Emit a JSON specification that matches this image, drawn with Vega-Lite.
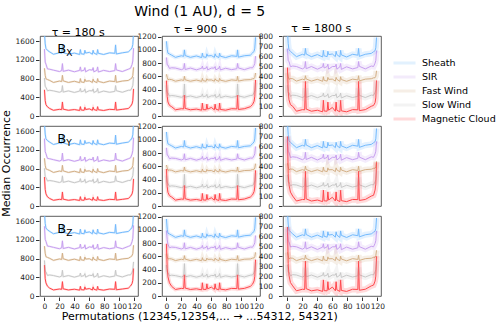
{
"$schema":"https://vega.github.io/schema/vega-lite/v6.json",
"padding":{"left":0,"right":2,"top":5,"bottom":2},
"background":"white",
"datasets":{"d":[
{"t":180,"c":"X","p":0,"a":1780,"b":1430,"f":1020,"w":810,"m":560},
{"t":180,"c":"X","p":1,"a":1542,"b":1151,"f":870,"w":630,"m":328},
{"t":180,"c":"X","p":2,"a":1443,"b":1109,"f":795,"w":615,"m":242},
{"t":180,"c":"X","p":4,"a":1404,"b":1007,"f":780,"w":540,"m":196},
{"t":180,"c":"X","p":7,"a":1370,"b":1000,"f":760,"w":550,"m":160},
{"t":180,"c":"X","p":12,"a":1320,"b":980,"f":717,"w":537,"m":122},
{"t":180,"c":"X","p":20,"a":1350,"b":950,"f":747,"w":507,"m":142},
{"t":180,"c":"X","p":23,"a":1340,"b":970,"f":736,"w":526,"m":136},
{"t":180,"c":"X","p":24,"a":1520,"b":1120,"f":870,"w":650,"m":300},
{"t":180,"c":"X","p":25,"a":1355,"b":955,"f":751,"w":511,"m":146},
{"t":180,"c":"X","p":32,"a":1320,"b":980,"f":717,"w":537,"m":122},
{"t":180,"c":"X","p":40,"a":1345,"b":945,"f":743,"w":503,"m":138},
{"t":180,"c":"X","p":47,"a":1315,"b":975,"f":713,"w":533,"m":118},
{"t":180,"c":"X","p":48,"a":1420,"b":1050,"f":800,"w":590,"m":200},
{"t":180,"c":"X","p":49,"a":1330,"b":960,"f":728,"w":518,"m":128},
{"t":180,"c":"X","p":53,"a":1320,"b":980,"f":717,"w":537,"m":122},
{"t":180,"c":"X","p":54,"a":1405,"b":1035,"f":788,"w":578,"m":188},
{"t":180,"c":"X","p":55,"a":1345,"b":945,"f":743,"w":503,"m":138},
{"t":180,"c":"X","p":60,"a":1360,"b":990,"f":752,"w":542,"m":152},
{"t":180,"c":"X","p":64,"a":1320,"b":980,"f":717,"w":537,"m":122},
{"t":180,"c":"X","p":65,"a":1405,"b":1035,"f":788,"w":578,"m":188},
{"t":180,"c":"X","p":66,"a":1345,"b":945,"f":743,"w":503,"m":138},
{"t":180,"c":"X","p":70,"a":1315,"b":975,"f":713,"w":533,"m":118},
{"t":180,"c":"X","p":71,"a":1420,"b":1050,"f":800,"w":590,"m":200},
{"t":180,"c":"X","p":72,"a":1340,"b":940,"f":739,"w":499,"m":134},
{"t":180,"c":"X","p":79,"a":1315,"b":975,"f":713,"w":533,"m":118},
{"t":180,"c":"X","p":87,"a":1350,"b":950,"f":747,"w":507,"m":142},
{"t":180,"c":"X","p":94,"a":1340,"b":970,"f":736,"w":526,"m":136},
{"t":180,"c":"X","p":95,"a":1520,"b":1120,"f":870,"w":650,"m":300},
{"t":180,"c":"X","p":96,"a":1325,"b":985,"f":721,"w":541,"m":126},
{"t":180,"c":"X","p":104,"a":1350,"b":950,"f":747,"w":507,"m":142},
{"t":180,"c":"X","p":112,"a":1370,"b":1000,"f":760,"w":550,"m":160},
{"t":180,"c":"X","p":115,"a":1414,"b":1020,"f":791,"w":551,"m":207},
{"t":180,"c":"X","p":117,"a":1458,"b":1100,"f":816,"w":606,"m":258},
{"t":180,"c":"X","p":118,"a":1527,"b":1175,"f":864,"w":654,"m":327},
{"t":180,"c":"X","p":119,"a":1780,"b":1450,"f":1040,"w":830,"m":580},
{"t":180,"c":"Y","p":0,"a":1775,"b":1440,"f":1020,"w":805,"m":620},
{"t":180,"c":"Y","p":1,"a":1537,"b":1161,"f":870,"w":625,"m":355},
{"t":180,"c":"Y","p":2,"a":1438,"b":1119,"f":795,"w":610,"m":260},
{"t":180,"c":"Y","p":4,"a":1399,"b":1017,"f":780,"w":535,"m":196},
{"t":180,"c":"Y","p":7,"a":1365,"b":1010,"f":760,"w":545,"m":160},
{"t":180,"c":"Y","p":12,"a":1315,"b":990,"f":717,"w":532,"m":122},
{"t":180,"c":"Y","p":20,"a":1345,"b":960,"f":747,"w":502,"m":142},
{"t":180,"c":"Y","p":23,"a":1335,"b":980,"f":736,"w":521,"m":136},
{"t":180,"c":"Y","p":24,"a":1515,"b":1130,"f":870,"w":645,"m":300},
{"t":180,"c":"Y","p":25,"a":1350,"b":965,"f":751,"w":506,"m":146},
{"t":180,"c":"Y","p":32,"a":1315,"b":990,"f":717,"w":532,"m":122},
{"t":180,"c":"Y","p":40,"a":1340,"b":955,"f":743,"w":498,"m":138},
{"t":180,"c":"Y","p":47,"a":1310,"b":985,"f":713,"w":528,"m":118},
{"t":180,"c":"Y","p":48,"a":1415,"b":1060,"f":800,"w":585,"m":200},
{"t":180,"c":"Y","p":49,"a":1325,"b":970,"f":728,"w":513,"m":128},
{"t":180,"c":"Y","p":53,"a":1315,"b":990,"f":717,"w":532,"m":122},
{"t":180,"c":"Y","p":54,"a":1400,"b":1045,"f":788,"w":573,"m":188},
{"t":180,"c":"Y","p":55,"a":1340,"b":955,"f":743,"w":498,"m":138},
{"t":180,"c":"Y","p":60,"a":1355,"b":1000,"f":752,"w":537,"m":152},
{"t":180,"c":"Y","p":64,"a":1315,"b":990,"f":717,"w":532,"m":122},
{"t":180,"c":"Y","p":65,"a":1400,"b":1045,"f":788,"w":573,"m":188},
{"t":180,"c":"Y","p":66,"a":1340,"b":955,"f":743,"w":498,"m":138},
{"t":180,"c":"Y","p":70,"a":1310,"b":985,"f":713,"w":528,"m":118},
{"t":180,"c":"Y","p":71,"a":1415,"b":1060,"f":800,"w":585,"m":200},
{"t":180,"c":"Y","p":72,"a":1335,"b":950,"f":739,"w":494,"m":134},
{"t":180,"c":"Y","p":79,"a":1310,"b":985,"f":713,"w":528,"m":118},
{"t":180,"c":"Y","p":87,"a":1345,"b":960,"f":747,"w":502,"m":142},
{"t":180,"c":"Y","p":94,"a":1335,"b":980,"f":736,"w":521,"m":136},
{"t":180,"c":"Y","p":95,"a":1515,"b":1130,"f":870,"w":645,"m":300},
{"t":180,"c":"Y","p":96,"a":1320,"b":995,"f":721,"w":536,"m":126},
{"t":180,"c":"Y","p":104,"a":1345,"b":960,"f":747,"w":502,"m":142},
{"t":180,"c":"Y","p":112,"a":1365,"b":1010,"f":760,"w":545,"m":160},
{"t":180,"c":"Y","p":115,"a":1409,"b":1030,"f":791,"w":546,"m":207},
{"t":180,"c":"Y","p":117,"a":1453,"b":1110,"f":816,"w":601,"m":258},
{"t":180,"c":"Y","p":118,"a":1522,"b":1185,"f":864,"w":649,"m":327},
{"t":180,"c":"Y","p":119,"a":1775,"b":1460,"f":1040,"w":825,"m":580},
{"t":180,"c":"Z","p":0,"a":1790,"b":1490,"f":1065,"w":760,"m":660},
{"t":180,"c":"Z","p":1,"a":1552,"b":1211,"f":915,"w":530,"m":370},
{"t":180,"c":"Z","p":2,"a":1453,"b":1169,"f":840,"w":515,"m":280},
{"t":180,"c":"Z","p":4,"a":1414,"b":1067,"f":825,"w":440,"m":210},
{"t":180,"c":"Z","p":7,"a":1380,"b":1060,"f":805,"w":450,"m":167},
{"t":180,"c":"Z","p":12,"a":1330,"b":1040,"f":762,"w":437,"m":129},
{"t":180,"c":"Z","p":20,"a":1360,"b":1010,"f":792,"w":407,"m":149},
{"t":180,"c":"Z","p":23,"a":1350,"b":1030,"f":781,"w":426,"m":143},
{"t":180,"c":"Z","p":24,"a":1530,"b":1180,"f":915,"w":550,"m":307},
{"t":180,"c":"Z","p":25,"a":1365,"b":1015,"f":796,"w":411,"m":153},
{"t":180,"c":"Z","p":32,"a":1330,"b":1040,"f":762,"w":437,"m":129},
{"t":180,"c":"Z","p":40,"a":1355,"b":1005,"f":788,"w":403,"m":145},
{"t":180,"c":"Z","p":47,"a":1325,"b":1035,"f":758,"w":433,"m":125},
{"t":180,"c":"Z","p":48,"a":1430,"b":1110,"f":845,"w":490,"m":207},
{"t":180,"c":"Z","p":49,"a":1340,"b":1020,"f":773,"w":418,"m":135},
{"t":180,"c":"Z","p":53,"a":1330,"b":1040,"f":762,"w":437,"m":129},
{"t":180,"c":"Z","p":54,"a":1415,"b":1095,"f":833,"w":478,"m":195},
{"t":180,"c":"Z","p":55,"a":1355,"b":1005,"f":788,"w":403,"m":145},
{"t":180,"c":"Z","p":60,"a":1370,"b":1050,"f":797,"w":442,"m":159},
{"t":180,"c":"Z","p":64,"a":1330,"b":1040,"f":762,"w":437,"m":129},
{"t":180,"c":"Z","p":65,"a":1415,"b":1095,"f":833,"w":478,"m":195},
{"t":180,"c":"Z","p":66,"a":1355,"b":1005,"f":788,"w":403,"m":145},
{"t":180,"c":"Z","p":70,"a":1325,"b":1035,"f":758,"w":433,"m":125},
{"t":180,"c":"Z","p":71,"a":1430,"b":1110,"f":845,"w":490,"m":207},
{"t":180,"c":"Z","p":72,"a":1350,"b":1000,"f":784,"w":399,"m":141},
{"t":180,"c":"Z","p":79,"a":1325,"b":1035,"f":758,"w":433,"m":125},
{"t":180,"c":"Z","p":87,"a":1360,"b":1010,"f":792,"w":407,"m":149},
{"t":180,"c":"Z","p":94,"a":1350,"b":1030,"f":781,"w":426,"m":143},
{"t":180,"c":"Z","p":95,"a":1530,"b":1180,"f":915,"w":550,"m":307},
{"t":180,"c":"Z","p":96,"a":1335,"b":1045,"f":766,"w":441,"m":133},
{"t":180,"c":"Z","p":104,"a":1360,"b":1010,"f":792,"w":407,"m":149},
{"t":180,"c":"Z","p":112,"a":1380,"b":1060,"f":805,"w":450,"m":167},
{"t":180,"c":"Z","p":115,"a":1424,"b":1080,"f":836,"w":451,"m":214},
{"t":180,"c":"Z","p":117,"a":1468,"b":1160,"f":861,"w":506,"m":265},
{"t":180,"c":"Z","p":118,"a":1537,"b":1235,"f":909,"w":554,"m":334},
{"t":180,"c":"Z","p":119,"a":1790,"b":1510,"f":1085,"w":730,"m":587},
{"t":900,"c":"X","p":0,"a":1130,"b":885,"f":630,"w":465,"m":535},
{"t":900,"c":"X","p":1,"a":1010,"b":774,"f":585,"w":356,"m":296},
{"t":900,"c":"X","p":2,"a":950,"b":771,"f":550,"w":349,"m":212},
{"t":900,"c":"X","p":4,"a":938,"b":720,"f":555,"w":302,"m":161},
{"t":900,"c":"X","p":7,"a":920,"b":730,"f":550,"w":310,"m":140},
{"t":900,"c":"X","p":12,"a":887,"b":725,"f":526,"w":303,"m":94},
{"t":900,"c":"X","p":20,"a":911,"b":701,"f":546,"w":283,"m":110},
{"t":900,"c":"X","p":23,"a":902,"b":715,"f":538,"w":295,"m":107},
{"t":900,"c":"X","p":24,"a":1000,"b":795,"f":600,"w":485,"m":315},
{"t":900,"c":"X","p":25,"a":914,"b":703,"f":548,"w":285,"m":115},
{"t":900,"c":"X","p":32,"a":887,"b":725,"f":526,"w":303,"m":94},
{"t":900,"c":"X","p":40,"a":908,"b":698,"f":544,"w":280,"m":104},
{"t":900,"c":"X","p":47,"a":884,"b":722,"f":524,"w":300,"m":88},
{"t":900,"c":"X","p":48,"a":950,"b":755,"f":570,"w":335,"m":195},
{"t":900,"c":"X","p":49,"a":896,"b":710,"f":534,"w":290,"m":96},
{"t":900,"c":"X","p":53,"a":887,"b":725,"f":526,"w":303,"m":94},
{"t":900,"c":"X","p":54,"a":941,"b":748,"f":564,"w":328,"m":179},
{"t":900,"c":"X","p":55,"a":908,"b":698,"f":544,"w":280,"m":104},
{"t":900,"c":"X","p":60,"a":914,"b":725,"f":546,"w":305,"m":129},
{"t":900,"c":"X","p":64,"a":887,"b":725,"f":526,"w":303,"m":94},
{"t":900,"c":"X","p":65,"a":941,"b":748,"f":564,"w":328,"m":179},
{"t":900,"c":"X","p":66,"a":908,"b":698,"f":544,"w":280,"m":104},
{"t":900,"c":"X","p":70,"a":884,"b":722,"f":524,"w":300,"m":88},
{"t":900,"c":"X","p":71,"a":950,"b":755,"f":570,"w":335,"m":195},
{"t":900,"c":"X","p":72,"a":905,"b":696,"f":542,"w":278,"m":99},
{"t":900,"c":"X","p":79,"a":884,"b":722,"f":524,"w":300,"m":88},
{"t":900,"c":"X","p":87,"a":911,"b":701,"f":546,"w":283,"m":110},
{"t":900,"c":"X","p":94,"a":902,"b":715,"f":538,"w":295,"m":107},
{"t":900,"c":"X","p":95,"a":1000,"b":795,"f":600,"w":485,"m":315},
{"t":900,"c":"X","p":96,"a":890,"b":727,"f":528,"w":305,"m":99},
{"t":900,"c":"X","p":104,"a":911,"b":701,"f":546,"w":283,"m":110},
{"t":900,"c":"X","p":112,"a":920,"b":730,"f":550,"w":310,"m":140},
{"t":900,"c":"X","p":115,"a":953,"b":728,"f":562,"w":313,"m":173},
{"t":900,"c":"X","p":117,"a":980,"b":765,"f":566,"w":351,"m":223},
{"t":900,"c":"X","p":118,"a":1025,"b":795,"f":584,"w":384,"m":292},
{"t":900,"c":"X","p":119,"a":1190,"b":905,"f":650,"w":505,"m":545},
{"t":900,"c":"Y","p":0,"a":1120,"b":880,"f":620,"w":460,"m":560},
{"t":900,"c":"Y","p":1,"a":1000,"b":769,"f":575,"w":351,"m":291},
{"t":900,"c":"Y","p":2,"a":940,"b":766,"f":540,"w":344,"m":207},
{"t":900,"c":"Y","p":4,"a":928,"b":715,"f":545,"w":297,"m":156},
{"t":900,"c":"Y","p":7,"a":910,"b":725,"f":540,"w":305,"m":135},
{"t":900,"c":"Y","p":12,"a":877,"b":720,"f":516,"w":298,"m":89},
{"t":900,"c":"Y","p":20,"a":901,"b":696,"f":536,"w":278,"m":105},
{"t":900,"c":"Y","p":23,"a":892,"b":710,"f":528,"w":290,"m":102},
{"t":900,"c":"Y","p":24,"a":990,"b":790,"f":590,"w":480,"m":310},
{"t":900,"c":"Y","p":25,"a":904,"b":698,"f":538,"w":280,"m":110},
{"t":900,"c":"Y","p":32,"a":877,"b":720,"f":516,"w":298,"m":89},
{"t":900,"c":"Y","p":40,"a":898,"b":693,"f":534,"w":275,"m":99},
{"t":900,"c":"Y","p":47,"a":874,"b":717,"f":514,"w":295,"m":83},
{"t":900,"c":"Y","p":48,"a":940,"b":750,"f":560,"w":330,"m":190},
{"t":900,"c":"Y","p":49,"a":886,"b":705,"f":524,"w":285,"m":91},
{"t":900,"c":"Y","p":53,"a":877,"b":720,"f":516,"w":298,"m":89},
{"t":900,"c":"Y","p":54,"a":931,"b":743,"f":554,"w":323,"m":174},
{"t":900,"c":"Y","p":55,"a":898,"b":693,"f":534,"w":275,"m":99},
{"t":900,"c":"Y","p":60,"a":904,"b":720,"f":536,"w":300,"m":124},
{"t":900,"c":"Y","p":64,"a":877,"b":720,"f":516,"w":298,"m":89},
{"t":900,"c":"Y","p":65,"a":931,"b":743,"f":554,"w":323,"m":174},
{"t":900,"c":"Y","p":66,"a":898,"b":693,"f":534,"w":275,"m":99},
{"t":900,"c":"Y","p":70,"a":874,"b":717,"f":514,"w":295,"m":83},
{"t":900,"c":"Y","p":71,"a":940,"b":750,"f":560,"w":330,"m":190},
{"t":900,"c":"Y","p":72,"a":895,"b":691,"f":532,"w":273,"m":94},
{"t":900,"c":"Y","p":79,"a":874,"b":717,"f":514,"w":295,"m":83},
{"t":900,"c":"Y","p":87,"a":901,"b":696,"f":536,"w":278,"m":105},
{"t":900,"c":"Y","p":94,"a":892,"b":710,"f":528,"w":290,"m":102},
{"t":900,"c":"Y","p":95,"a":990,"b":790,"f":590,"w":480,"m":310},
{"t":900,"c":"Y","p":96,"a":880,"b":722,"f":518,"w":300,"m":94},
{"t":900,"c":"Y","p":104,"a":901,"b":696,"f":536,"w":278,"m":105},
{"t":900,"c":"Y","p":112,"a":910,"b":725,"f":540,"w":305,"m":135},
{"t":900,"c":"Y","p":115,"a":943,"b":723,"f":552,"w":308,"m":168},
{"t":900,"c":"Y","p":117,"a":970,"b":760,"f":556,"w":346,"m":218},
{"t":900,"c":"Y","p":118,"a":1015,"b":790,"f":574,"w":379,"m":287},
{"t":900,"c":"Y","p":119,"a":1180,"b":900,"f":640,"w":500,"m":540},
{"t":900,"c":"Z","p":0,"a":1165,"b":990,"f":640,"w":470,"m":790},
{"t":900,"c":"Z","p":1,"a":1010,"b":850,"f":595,"w":361,"m":420},
{"t":900,"c":"Z","p":2,"a":950,"b":781,"f":560,"w":354,"m":290},
{"t":900,"c":"Z","p":4,"a":938,"b":730,"f":565,"w":307,"m":200},
{"t":900,"c":"Z","p":7,"a":920,"b":740,"f":560,"w":315,"m":145},
{"t":900,"c":"Z","p":12,"a":887,"b":735,"f":536,"w":308,"m":99},
{"t":900,"c":"Z","p":20,"a":911,"b":711,"f":556,"w":288,"m":115},
{"t":900,"c":"Z","p":23,"a":902,"b":725,"f":548,"w":300,"m":112},
{"t":900,"c":"Z","p":24,"a":1000,"b":805,"f":610,"w":490,"m":320},
{"t":900,"c":"Z","p":25,"a":914,"b":713,"f":558,"w":290,"m":120},
{"t":900,"c":"Z","p":32,"a":887,"b":735,"f":536,"w":308,"m":99},
{"t":900,"c":"Z","p":40,"a":908,"b":708,"f":554,"w":285,"m":109},
{"t":900,"c":"Z","p":47,"a":884,"b":732,"f":534,"w":305,"m":93},
{"t":900,"c":"Z","p":48,"a":950,"b":765,"f":580,"w":340,"m":200},
{"t":900,"c":"Z","p":49,"a":896,"b":720,"f":544,"w":295,"m":101},
{"t":900,"c":"Z","p":53,"a":887,"b":735,"f":536,"w":308,"m":99},
{"t":900,"c":"Z","p":54,"a":941,"b":758,"f":574,"w":333,"m":184},
{"t":900,"c":"Z","p":55,"a":908,"b":708,"f":554,"w":285,"m":109},
{"t":900,"c":"Z","p":60,"a":914,"b":735,"f":556,"w":310,"m":134},
{"t":900,"c":"Z","p":64,"a":887,"b":735,"f":536,"w":308,"m":99},
{"t":900,"c":"Z","p":65,"a":941,"b":758,"f":574,"w":333,"m":184},
{"t":900,"c":"Z","p":66,"a":908,"b":708,"f":554,"w":285,"m":109},
{"t":900,"c":"Z","p":70,"a":884,"b":732,"f":534,"w":305,"m":93},
{"t":900,"c":"Z","p":71,"a":950,"b":765,"f":580,"w":340,"m":200},
{"t":900,"c":"Z","p":72,"a":905,"b":706,"f":552,"w":283,"m":104},
{"t":900,"c":"Z","p":79,"a":884,"b":732,"f":534,"w":305,"m":93},
{"t":900,"c":"Z","p":87,"a":911,"b":711,"f":556,"w":288,"m":115},
{"t":900,"c":"Z","p":94,"a":902,"b":725,"f":548,"w":300,"m":112},
{"t":900,"c":"Z","p":95,"a":1000,"b":805,"f":610,"w":490,"m":320},
{"t":900,"c":"Z","p":96,"a":890,"b":737,"f":538,"w":310,"m":104},
{"t":900,"c":"Z","p":104,"a":911,"b":711,"f":556,"w":288,"m":115},
{"t":900,"c":"Z","p":112,"a":920,"b":740,"f":560,"w":315,"m":145},
{"t":900,"c":"Z","p":115,"a":953,"b":738,"f":572,"w":318,"m":178},
{"t":900,"c":"Z","p":117,"a":980,"b":775,"f":576,"w":356,"m":228},
{"t":900,"c":"Z","p":118,"a":1025,"b":805,"f":594,"w":389,"m":297},
{"t":900,"c":"Z","p":119,"a":1190,"b":915,"f":660,"w":510,"m":550},
{"t":1800,"c":"X","p":0,"a":860,"b":678,"f":435,"w":310,"m":488},
{"t":1800,"c":"X","p":1,"a":729,"b":556,"f":401,"w":234,"m":249},
{"t":1800,"c":"X","p":2,"a":666,"b":550,"f":369,"w":236,"m":165},
{"t":1800,"c":"X","p":4,"a":651,"b":496,"f":377,"w":198,"m":114},
{"t":1800,"c":"X","p":7,"a":630,"b":503,"f":375,"w":210,"m":98},
{"t":1800,"c":"X","p":12,"a":597,"b":498,"f":351,"w":206,"m":48},
{"t":1800,"c":"X","p":20,"a":621,"b":474,"f":371,"w":186,"m":64},
{"t":1800,"c":"X","p":23,"a":612,"b":488,"f":363,"w":198,"m":62},
{"t":1800,"c":"X","p":24,"a":680,"b":548,"f":405,"w":280,"m":348},
{"t":1800,"c":"X","p":25,"a":624,"b":476,"f":373,"w":188,"m":70},
{"t":1800,"c":"X","p":32,"a":597,"b":498,"f":351,"w":206,"m":48},
{"t":1800,"c":"X","p":40,"a":618,"b":471,"f":369,"w":184,"m":58},
{"t":1800,"c":"X","p":47,"a":594,"b":495,"f":349,"w":204,"m":42},
{"t":1800,"c":"X","p":48,"a":660,"b":528,"f":395,"w":230,"m":158},
{"t":1800,"c":"X","p":49,"a":606,"b":483,"f":359,"w":194,"m":50},
{"t":1800,"c":"X","p":53,"a":597,"b":498,"f":351,"w":206,"m":48},
{"t":1800,"c":"X","p":54,"a":651,"b":521,"f":389,"w":224,"m":140},
{"t":1800,"c":"X","p":55,"a":618,"b":471,"f":369,"w":184,"m":58},
{"t":1800,"c":"X","p":60,"a":624,"b":498,"f":371,"w":206,"m":86},
{"t":1800,"c":"X","p":64,"a":597,"b":498,"f":351,"w":206,"m":48},
{"t":1800,"c":"X","p":65,"a":651,"b":521,"f":389,"w":224,"m":140},
{"t":1800,"c":"X","p":66,"a":618,"b":471,"f":369,"w":184,"m":58},
{"t":1800,"c":"X","p":70,"a":594,"b":495,"f":349,"w":204,"m":42},
{"t":1800,"c":"X","p":71,"a":660,"b":528,"f":395,"w":230,"m":158},
{"t":1800,"c":"X","p":72,"a":615,"b":469,"f":367,"w":182,"m":52},
{"t":1800,"c":"X","p":79,"a":594,"b":495,"f":349,"w":204,"m":42},
{"t":1800,"c":"X","p":87,"a":621,"b":474,"f":371,"w":186,"m":64},
{"t":1800,"c":"X","p":94,"a":612,"b":488,"f":363,"w":198,"m":62},
{"t":1800,"c":"X","p":95,"a":680,"b":548,"f":405,"w":280,"m":348},
{"t":1800,"c":"X","p":96,"a":600,"b":500,"f":353,"w":208,"m":54},
{"t":1800,"c":"X","p":104,"a":621,"b":474,"f":371,"w":186,"m":64},
{"t":1800,"c":"X","p":112,"a":630,"b":503,"f":375,"w":210,"m":98},
{"t":1800,"c":"X","p":115,"a":647,"b":498,"f":384,"w":208,"m":106},
{"t":1800,"c":"X","p":117,"a":657,"b":532,"f":385,"w":238,"m":134},
{"t":1800,"c":"X","p":118,"a":686,"b":559,"f":400,"w":262,"m":182},
{"t":1800,"c":"X","p":119,"a":790,"b":658,"f":455,"w":350,"m":358},
{"t":1800,"c":"Y","p":0,"a":850,"b":670,"f":430,"w":315,"m":700},
{"t":1800,"c":"Y","p":1,"a":719,"b":548,"f":396,"w":239,"m":330},
{"t":1800,"c":"Y","p":2,"a":656,"b":542,"f":364,"w":241,"m":215},
{"t":1800,"c":"Y","p":4,"a":641,"b":488,"f":372,"w":203,"m":140},
{"t":1800,"c":"Y","p":7,"a":620,"b":495,"f":370,"w":215,"m":100},
{"t":1800,"c":"Y","p":12,"a":587,"b":490,"f":346,"w":211,"m":50},
{"t":1800,"c":"Y","p":20,"a":611,"b":466,"f":366,"w":191,"m":66},
{"t":1800,"c":"Y","p":23,"a":602,"b":480,"f":358,"w":203,"m":64},
{"t":1800,"c":"Y","p":24,"a":670,"b":540,"f":400,"w":285,"m":350},
{"t":1800,"c":"Y","p":25,"a":614,"b":468,"f":368,"w":193,"m":72},
{"t":1800,"c":"Y","p":32,"a":587,"b":490,"f":346,"w":211,"m":50},
{"t":1800,"c":"Y","p":40,"a":608,"b":463,"f":364,"w":189,"m":60},
{"t":1800,"c":"Y","p":47,"a":584,"b":487,"f":344,"w":209,"m":44},
{"t":1800,"c":"Y","p":48,"a":650,"b":520,"f":390,"w":235,"m":160},
{"t":1800,"c":"Y","p":49,"a":596,"b":475,"f":354,"w":199,"m":52},
{"t":1800,"c":"Y","p":53,"a":587,"b":490,"f":346,"w":211,"m":50},
{"t":1800,"c":"Y","p":54,"a":641,"b":513,"f":384,"w":229,"m":142},
{"t":1800,"c":"Y","p":55,"a":608,"b":463,"f":364,"w":189,"m":60},
{"t":1800,"c":"Y","p":60,"a":614,"b":490,"f":366,"w":211,"m":88},
{"t":1800,"c":"Y","p":64,"a":587,"b":490,"f":346,"w":211,"m":50},
{"t":1800,"c":"Y","p":65,"a":641,"b":513,"f":384,"w":229,"m":142},
{"t":1800,"c":"Y","p":66,"a":608,"b":463,"f":364,"w":189,"m":60},
{"t":1800,"c":"Y","p":70,"a":584,"b":487,"f":344,"w":209,"m":44},
{"t":1800,"c":"Y","p":71,"a":650,"b":520,"f":390,"w":235,"m":160},
{"t":1800,"c":"Y","p":72,"a":605,"b":461,"f":362,"w":187,"m":54},
{"t":1800,"c":"Y","p":79,"a":584,"b":487,"f":344,"w":209,"m":44},
{"t":1800,"c":"Y","p":87,"a":611,"b":466,"f":366,"w":191,"m":66},
{"t":1800,"c":"Y","p":94,"a":602,"b":480,"f":358,"w":203,"m":64},
{"t":1800,"c":"Y","p":95,"a":670,"b":540,"f":400,"w":285,"m":350},
{"t":1800,"c":"Y","p":96,"a":590,"b":492,"f":348,"w":213,"m":56},
{"t":1800,"c":"Y","p":104,"a":611,"b":466,"f":366,"w":191,"m":66},
{"t":1800,"c":"Y","p":112,"a":620,"b":495,"f":370,"w":215,"m":100},
{"t":1800,"c":"Y","p":115,"a":637,"b":490,"f":379,"w":213,"m":108},
{"t":1800,"c":"Y","p":117,"a":647,"b":524,"f":380,"w":243,"m":160},
{"t":1800,"c":"Y","p":118,"a":676,"b":551,"f":395,"w":267,"m":220},
{"t":1800,"c":"Y","p":119,"a":780,"b":650,"f":450,"w":355,"m":440},
{"t":1800,"c":"Z","p":0,"a":855,"b":675,"f":440,"w":315,"m":695},
{"t":1800,"c":"Z","p":1,"a":724,"b":553,"f":406,"w":239,"m":325},
{"t":1800,"c":"Z","p":2,"a":661,"b":547,"f":374,"w":241,"m":210},
{"t":1800,"c":"Z","p":4,"a":646,"b":493,"f":382,"w":203,"m":135},
{"t":1800,"c":"Z","p":7,"a":625,"b":500,"f":380,"w":215,"m":102},
{"t":1800,"c":"Z","p":12,"a":592,"b":495,"f":356,"w":211,"m":52},
{"t":1800,"c":"Z","p":20,"a":616,"b":471,"f":376,"w":191,"m":68},
{"t":1800,"c":"Z","p":23,"a":607,"b":485,"f":368,"w":203,"m":66},
{"t":1800,"c":"Z","p":24,"a":675,"b":545,"f":410,"w":285,"m":352},
{"t":1800,"c":"Z","p":25,"a":619,"b":473,"f":378,"w":193,"m":74},
{"t":1800,"c":"Z","p":32,"a":592,"b":495,"f":356,"w":211,"m":52},
{"t":1800,"c":"Z","p":40,"a":613,"b":468,"f":374,"w":189,"m":62},
{"t":1800,"c":"Z","p":47,"a":589,"b":492,"f":354,"w":209,"m":46},
{"t":1800,"c":"Z","p":48,"a":655,"b":525,"f":400,"w":235,"m":162},
{"t":1800,"c":"Z","p":49,"a":601,"b":480,"f":364,"w":199,"m":54},
{"t":1800,"c":"Z","p":53,"a":592,"b":495,"f":356,"w":211,"m":52},
{"t":1800,"c":"Z","p":54,"a":646,"b":518,"f":394,"w":229,"m":144},
{"t":1800,"c":"Z","p":55,"a":613,"b":468,"f":374,"w":189,"m":62},
{"t":1800,"c":"Z","p":60,"a":619,"b":495,"f":376,"w":211,"m":90},
{"t":1800,"c":"Z","p":64,"a":592,"b":495,"f":356,"w":211,"m":52},
{"t":1800,"c":"Z","p":65,"a":646,"b":518,"f":394,"w":229,"m":144},
{"t":1800,"c":"Z","p":66,"a":613,"b":468,"f":374,"w":189,"m":62},
{"t":1800,"c":"Z","p":70,"a":589,"b":492,"f":354,"w":209,"m":46},
{"t":1800,"c":"Z","p":71,"a":655,"b":525,"f":400,"w":235,"m":162},
{"t":1800,"c":"Z","p":72,"a":610,"b":466,"f":372,"w":187,"m":56},
{"t":1800,"c":"Z","p":79,"a":589,"b":492,"f":354,"w":209,"m":46},
{"t":1800,"c":"Z","p":87,"a":616,"b":471,"f":376,"w":191,"m":68},
{"t":1800,"c":"Z","p":94,"a":607,"b":485,"f":368,"w":203,"m":66},
{"t":1800,"c":"Z","p":95,"a":675,"b":545,"f":410,"w":285,"m":352},
{"t":1800,"c":"Z","p":96,"a":595,"b":497,"f":358,"w":213,"m":58},
{"t":1800,"c":"Z","p":104,"a":616,"b":471,"f":376,"w":191,"m":68},
{"t":1800,"c":"Z","p":112,"a":625,"b":500,"f":380,"w":215,"m":102},
{"t":1800,"c":"Z","p":115,"a":642,"b":495,"f":389,"w":213,"m":110},
{"t":1800,"c":"Z","p":117,"a":652,"b":529,"f":390,"w":243,"m":150},
{"t":1800,"c":"Z","p":118,"a":681,"b":556,"f":405,"w":267,"m":200},
{"t":1800,"c":"Z","p":119,"a":785,"b":655,"f":460,"w":355,"m":400}
]},
"vconcat":[{
"title":{"text":"Median Occurrence","orient":"left","fontSize":11,"fontWeight":"normal","color":"#000","anchor":"middle","offset":3},
"vconcat":[{
"title":{"text":"Wind (1 AU), d = 5","fontSize":14,"fontWeight":"normal","color":"#000","anchor":"middle","offset":4},
"vconcat":[{
"title":{"text":"Permutations (12345,12354,... → ...54312, 54321)","orient":"bottom","fontSize":11,"fontWeight":"normal","color":"#000","anchor":"middle","offset":1},
"spacing":-6,
"hconcat":[
{
"title":{"text":"τ = 180 s","fontSize":11,"fontWeight":"normal","anchor":"middle","offset":-2},
"data":{"name":"d"},
"transform":[{"filter":"datum.t==180"},{"fold":["a","b","f","w","m"],"as":["s","v"]}],
"facet":{"row":{"field":"c","type":"nominal","header":null}},
"spacing":8,
"spec":{"width":98,"height":80,"layer":[
{"mark":{"type":"line","strokeWidth":1,"clip":true},
"encoding":{"x":{"field":"p","type":"quantitative","scale":{"domain":[-5.95,124.95],"nice":false,"zero":false},"axis":{"values":[0,20,40,60,80,100,120],"tickCount":20,"title":null,"labelOverlap":false,"labelBound":false}},
"y":{"field":"v","type":"quantitative","scale":{"domain":[0,1710],"nice":false},"axis":{"values":[0,400,800,1200,1600],"tickCount":20,"title":null,"labelOverlap":false,"labelBound":false}},
"color":{"field":"s","type":"nominal","scale":{"domain":["a","b","f","w","m"],"range":["#75bbfd","#c79fef","#d4b087","#c8c8c8","#ff474c"]},"legend":{"title":null,"orient":"none","legendX":352,"legendY":20,"symbolType":"stroke","symbolStrokeWidth":3,"symbolSize":484,"symbolOpacity":1,"clipHeight":14,"rowPadding":0,"labelFontSize":9.5,"labelOffset":5,"labelExpr":"datum.label=='a'?'Sheath':datum.label=='b'?'SIR':datum.label=='f'?'Fast Wind':datum.label=='w'?'Slow Wind':'Magnetic Cloud'"}}}},
{"mark":{"type":"line","strokeWidth":2,"opacity":0.2,"clip":true},
"encoding":{"x":{"field":"p","type":"quantitative"},"y":{"field":"v","type":"quantitative"},"color":{"field":"s","type":"nominal"}}},
{"transform":[{"filter":"datum.p==0 && datum.s=='a'"}],"mark":{"type":"text","text":"B","fontSize":13,"align":"left","baseline":"middle","color":"#000"},"encoding":{"x":{"datum":17},"y":{"datum":1430}}},
{"transform":[{"filter":"datum.p==0 && datum.s=='a'"}],"mark":{"type":"text","fontSize":9,"align":"left","baseline":"middle","dx":9,"dy":4,"color":"#000"},"encoding":{"x":{"datum":17},"y":{"datum":1430},"text":{"field":"c"}}}
]}
},
{
"title":{"text":"τ = 900 s","fontSize":11,"fontWeight":"normal","anchor":"middle","offset":-2},
"data":{"name":"d"},
"transform":[{"filter":"datum.t==900"},{"fold":["a","b","f","w","m"],"as":["s","v"]}],
"facet":{"row":{"field":"c","type":"nominal","header":null}},
"spacing":8,
"spec":{"width":98,"height":80,"layer":[
{"mark":{"type":"line","strokeWidth":1,"clip":true},
"encoding":{"x":{"field":"p","type":"quantitative","scale":{"domain":[-5.95,124.95],"nice":false,"zero":false},"axis":{"values":[0,20,40,60,80,100,120],"tickCount":20,"title":null,"labelOverlap":false,"labelBound":false}},
"y":{"field":"v","type":"quantitative","scale":{"domain":[0,1210],"nice":false},"axis":{"values":[0,200,400,600,800,1000,1200],"tickCount":20,"title":null,"labelOverlap":false,"labelBound":false}},
"color":{"field":"s","type":"nominal"}}},
{"mark":{"type":"line","strokeWidth":4,"opacity":0.2,"clip":true},
"encoding":{"x":{"field":"p","type":"quantitative"},"y":{"field":"v","type":"quantitative"},"color":{"field":"s","type":"nominal"}}}
]}
},
{
"title":{"text":"τ = 1800 s","fontSize":11,"fontWeight":"normal","anchor":"middle","offset":-2},
"data":{"name":"d"},
"transform":[{"filter":"datum.t==1800"},{"fold":["a","b","f","w","m"],"as":["s","v"]}],
"facet":{"row":{"field":"c","type":"nominal","header":null}},
"spacing":8,
"spec":{"width":98,"height":80,"layer":[
{"mark":{"type":"line","strokeWidth":1,"clip":true},
"encoding":{"x":{"field":"p","type":"quantitative","scale":{"domain":[-5.95,124.95],"nice":false,"zero":false},"axis":{"values":[0,20,40,60,80,100,120],"tickCount":20,"title":null,"labelOverlap":false,"labelBound":false}},
"y":{"field":"v","type":"quantitative","scale":{"domain":[0,805],"nice":false},"axis":{"values":[0,100,200,300,400,500,600,700,800],"tickCount":20,"title":null,"labelOverlap":false,"labelBound":false,"labelPadding":6}},
"color":{"field":"s","type":"nominal"}}},
{"mark":{"type":"line","strokeWidth":6,"opacity":0.2,"clip":true},
"encoding":{"x":{"field":"p","type":"quantitative"},"y":{"field":"v","type":"quantitative"},"color":{"field":"s","type":"nominal"}}}
]}
}
],
"resolve":{"scale":{"y":"independent","x":"independent"}}
}]
}]
}],
"config":{
"font":"DejaVu Sans",
"view":{"stroke":"#333","strokeWidth":0.8},
"axis":{"grid":false,"domain":false,"tickColor":"#333","tickSize":3.5,"labelFontSize":7.5,"labelColor":"#222","titleFontSize":11,"titleFontWeight":"normal","titleColor":"#000","labelPadding":1.5,"labelOverlap":false,"labelFlush":false,"format":"d"},
"legend":{"labelColor":"#000"}
}
}
